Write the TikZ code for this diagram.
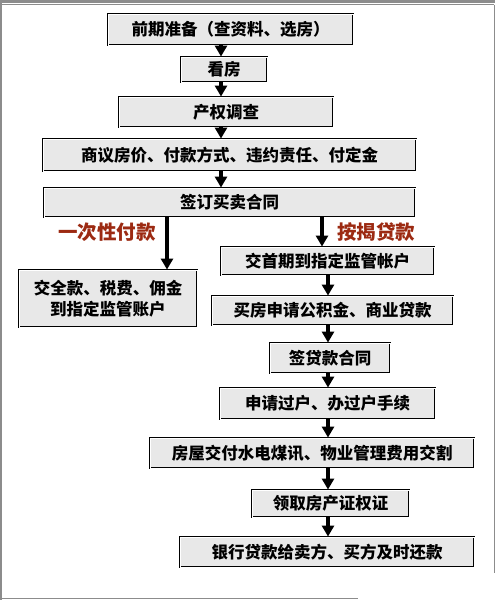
\documentclass[tikz,border=0pt]{standalone}
\usepackage{fontspec}
\newfontfamily\cjk{Noto Sans CJK SC}
\usetikzlibrary{positioning, arrows.meta, calc}
\definecolor{fGray}{HTML}{8C8C8C}
\definecolor{bFill}{HTML}{E8E8E8}
\definecolor{lRed}{HTML}{9C2A12}

\begin{document}
\begin{tikzpicture}[
  x=1pt, y=-1pt,
  every node/.style={font=\cjk\bfseries\fontsize{16.5}{21}\selectfont},
  stage/.style={draw=black, fill=bFill, line width=0.9pt,
                double=white, double distance=0.9pt,
                inner sep=0pt, align=center},
  flow/.style={line width=4pt, -{Triangle[width=12pt, length=11pt]}},
  tag/.style={text=lRed, font=\cjk\bfseries\fontsize{19.5}{22}\selectfont},
]
  \useasboundingbox (0,0) rectangle (495,600);

  % frame
  \draw[fGray, line width=3pt] (0,1.5) -- (495,1.5);
  \draw[fGray, line width=0.8pt] (2,4.7) -- (494,4.7);
  \draw[fGray, line width=2pt] (1,3) -- (1,600);
  \draw[fGray, line width=1pt] (494,4.7) -- (494,573);
  \draw[fGray, line width=1pt] (1,598) -- (358,598);

  % common steps
  \node[stage, minimum width=245, minimum height=31] (prep) at (230.5,29.5)
    {前期准备（查资料、选房）};
  \node[stage, minimum width=86, minimum height=25] (view) at (224,69.5) {看房};
  \node[stage, minimum width=214, minimum height=30] (check) at (226,112) {产权调查};
  \node[stage, minimum width=373, minimum height=32] (talk) at (229.5,155)
    {商议房价、付款方式、违约责任、付定金};
  \node[stage, minimum width=371, minimum height=29] (sign) at (229.5,202.5)
    {签订买卖合同};

  % full payment
  \node[stage, minimum width=178, minimum height=57] (full) at (108,298.5)
    {交全款、税费、佣金\\到指定监管账户};
  \node[tag] (fullTag) at (107,232) {一次性付款};

  % mortgage
  \node[tag] (loanTag) at (376,232) {按揭贷款};
  \node[stage, minimum width=213, minimum height=28] (down) at (327.5,261)
    {交首期到指定监管帐户};
  \node[stage, minimum width=241, minimum height=29] (apply) at (332.5,310.5)
    {买房申请公积金、商业贷款};
  \node[stage, minimum width=120, minimum height=30] (loan) at (330,358)
    {签贷款合同};
  \node[stage, minimum width=215, minimum height=31] (trans) at (327.5,403.5)
    {申请过户、办过户手续};
  \node[stage, minimum width=324, minimum height=30] (hand) at (312,453)
    {房屋交付水电煤讯、物业管理费用交割};
  \node[stage, minimum width=157, minimum height=27] (cert) at (330.5,503.5)
    {领取房产证权证};
  \node[stage, minimum width=294, minimum height=30] (repay) at (327,552)
    {银行贷款给卖方、买方及时还款};

  \coordinate (mainx) at (221,0);
  \coordinate (leftx) at (167,0);
  \coordinate (splitx) at (322,0);
  \coordinate (rightx) at (328,0);

  % arrows
  \draw[flow] (prep.south -| mainx) -- (view.north -| mainx);
  \draw[flow] (view.south -| mainx) -- (check.north -| mainx);
  \draw[flow] (check.south -| mainx) -- (talk.north -| mainx);
  \draw[flow] (talk.south -| mainx) -- (sign.north -| mainx);
  \draw[flow] (sign.south -| leftx) -- (full.north -| leftx);
  \draw[flow] (sign.south -| splitx) -- (down.north -| splitx);
  \draw[flow] (down.south -| rightx) -- (apply.north -| rightx);
  \draw[flow] (apply.south -| rightx) -- (loan.north -| rightx);
  \draw[flow] (loan.south -| rightx) -- (trans.north -| rightx);
  \draw[flow] (trans.south -| rightx) -- (hand.north -| rightx);
  \draw[flow] (hand.south -| rightx) -- (cert.north -| rightx);
  \draw[flow] (cert.south -| rightx) -- (repay.north -| rightx);
\end{tikzpicture}
\end{document}
